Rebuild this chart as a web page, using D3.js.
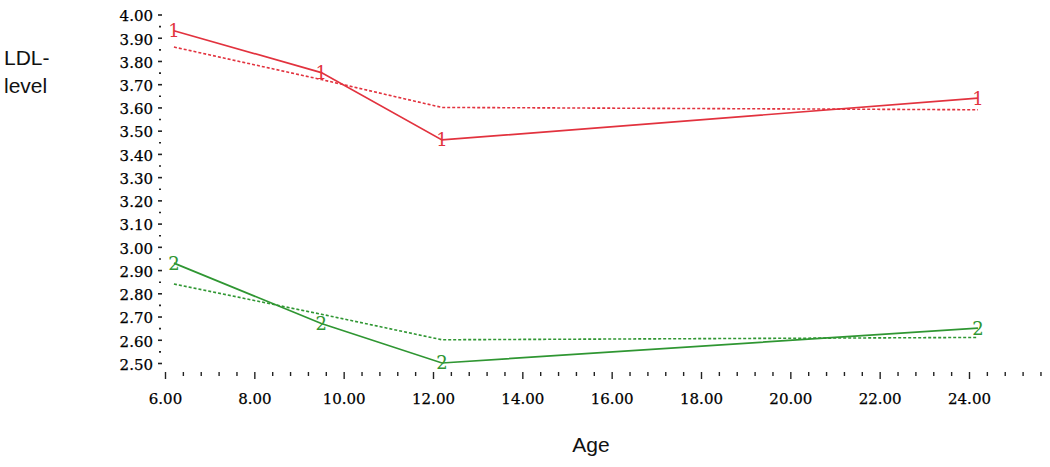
<!DOCTYPE html>
<html>
<head>
<meta charset="utf-8">
<script src="https://cdn.jsdelivr.net/npm/d3@7"></script>
<style>
  html, body { margin: 0; padding: 0; background: #fff; }
  svg { display: block; }
</style>
</head>
<body>
<svg id="chart" width="1050" height="467"></svg>
<script>
// ---- data ----
const ages = [6.2, 9.5, 12.2, 24.2];
const group1Observed = [3.93, 3.75, 3.46, 3.64];
const group1Fitted   = [3.86, 3.72, 3.60, 3.59];
const group2Observed = [2.93, 2.67, 2.50, 2.65];
const group2Fitted   = [2.84, 2.71, 2.60, 2.61];
const yTickLabels = ["2.50","2.60","2.70","2.80","2.90","3.00","3.10","3.20","3.30","3.40","3.50","3.60","3.70","3.80","3.90","4.00"];
const yMinorTicks = [2.55,2.65,2.75,2.85,2.95,3.05,3.15,3.25,3.35,3.45,3.55,3.65,3.75,3.85,3.95];
const xTickLabels = ["6.00","8.00","10.00","12.00","14.00","16.00","18.00","20.00","22.00","24.00"];
const xMinorTicks = [6.4,6.8,7.2,7.6,8.4,8.8,9.2,9.6,10.4,10.8,11.2,11.6,12.4,12.8,13.2,13.6,14.4,14.8,15.2,15.6,16.4,16.8,17.2,17.6,18.4,18.8,19.2,19.6,20.4,20.8,21.2,21.6,22.4,22.8,23.2,23.6,24.4,24.8,25.2,25.6];

const series = [
  { name: "1", obs: group1Observed, fit: group1Fitted, color: "#e2323e", marker: "1" },
  { name: "2", obs: group2Observed, fit: group2Fitted, color: "#2f9632", marker: "2" }
];

// ---- layout ----
const svg = d3.select("#chart");
const x = d3.scaleLinear().domain([6, 24]).range([165, 969]);
const y = d3.scaleLinear().domain([2.5, 4.0]).range([363, 14.5]);

const tickFont = "'DejaVu Serif', serif";

// y axis: major ticks with labels
const yAxisMajor = d3.axisLeft(y)
  .tickValues(yTickLabels.map(Number))
  .tickFormat(d3.format(".2f"))
  .tickSize(4).tickPadding(5);
const gy = svg.append("g").attr("transform", "translate(162,0)").call(yAxisMajor);
gy.select(".domain").remove();
gy.selectAll(".tick line").attr("stroke", "#222").attr("stroke-width", 1.6);
gy.selectAll(".tick text").attr("font-family", tickFont).attr("font-size", 15)
  .attr("fill", "#000").attr("stroke", "#000").attr("stroke-width", 0.25).attr("dy", "0.42em");

const yAxisMinor = d3.axisLeft(y).tickValues(yMinorTicks).tickSize(2).tickFormat("");
const gym = svg.append("g").attr("transform", "translate(161,0)").call(yAxisMinor);
gym.select(".domain").remove();
gym.selectAll(".tick line").attr("stroke", "#222").attr("stroke-width", 1.6);

// x axis
const xAxisMajor = d3.axisBottom(x)
  .tickValues(xTickLabels.map(Number))
  .tickFormat(d3.format(".2f"))
  .tickSize(7).tickPadding(14);
const gx = svg.append("g").attr("transform", "translate(0,372)").call(xAxisMajor);
gx.select(".domain").remove();
gx.selectAll(".tick line").attr("stroke", "#222").attr("stroke-width", 1.4);
gx.selectAll(".tick text").attr("font-family", tickFont).attr("font-size", 15)
  .attr("fill", "#000").attr("stroke", "#000").attr("stroke-width", 0.25);

const xAxisMinor = d3.axisBottom(x).tickValues(xMinorTicks).tickSize(4).tickFormat("");
const gxm = svg.append("g").attr("transform", "translate(0,372)").call(xAxisMinor);
gxm.select(".domain").remove();
gxm.selectAll(".tick line").attr("stroke", "#222").attr("stroke-width", 1.4);

// titles
const labelFont = "'Liberation Sans', Arial, sans-serif";
svg.append("text").attr("x", 4).attr("y", 65).attr("font-family", labelFont)
  .attr("font-size", 21).attr("fill", "#111").text("LDL-");
svg.append("text").attr("x", 4).attr("y", 93).attr("font-family", labelFont)
  .attr("font-size", 21).attr("fill", "#111").text("level");
svg.append("text").attr("x", 591).attr("y", 452).attr("text-anchor", "middle")
  .attr("font-family", labelFont).attr("font-size", 21).attr("fill", "#111").text("Age");

// lines
const line = d3.line().x(d => x(d[0])).y(d => y(d[1]));
series.forEach(s => {
  const obsPts = ages.map((a, i) => [a, s.obs[i]]);
  const fitPts = ages.map((a, i) => [a, s.fit[i]]);
  svg.append("path").datum(fitPts).attr("d", line)
    .attr("fill", "none").attr("stroke", s.color).attr("stroke-width", 1.6)
    .attr("stroke-dasharray", "3,2");
  svg.append("path").datum(obsPts).attr("d", line)
    .attr("fill", "none").attr("stroke", s.color).attr("stroke-width", 1.7);
  svg.selectAll(null).data(obsPts).enter().append("text")
    .attr("x", d => x(d[0])).attr("y", d => y(d[1]))
    .attr("text-anchor", "middle").attr("dy", "0.36em")
    .attr("font-family", "'DejaVu Serif', serif").attr("font-size", 18)
    .attr("fill", s.color).text(s.marker);
});
</script>
</body>
</html>
